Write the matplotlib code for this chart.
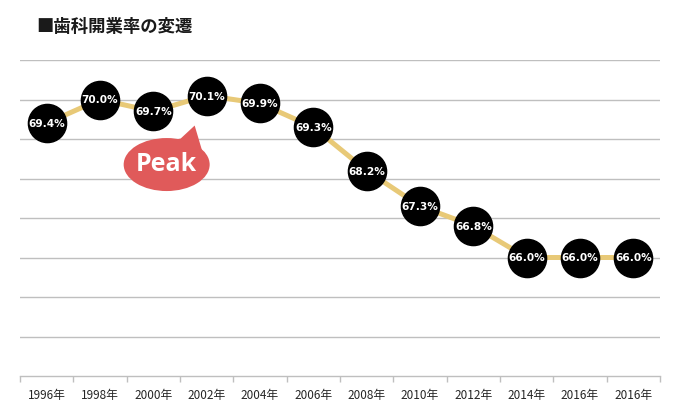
import matplotlib
matplotlib.use("Agg")
import matplotlib.pyplot as plt
from matplotlib.patches import Ellipse, Polygon
from matplotlib.transforms import IdentityTransform

years = ["1996年", "1998年", "2000年", "2002年", "2004年", "2006年",
         "2008年", "2010年", "2012年", "2014年", "2016年", "2016年"]
rates = [69.4, 70.0, 69.7, 70.1, 69.9, 69.3, 68.2, 67.3, 66.8, 66.0, 66.0, 66.0]
title = "■歯科開業率の変遷"
peak_label = "Peak"

plt.rcParams['font.family'] = ['Noto Sans CJK JP', 'DejaVu Sans']

fig = plt.figure(figsize=(6.8, 4.1), dpi=100)
ax = fig.add_axes([20/680, 1-377/410, 640/680, 316/410])

x = list(range(len(years)))
ax.set_xlim(-0.5, len(years) - 0.5)
ax.set_ylim(63, 71)
ax.set_yticks(range(64, 72))
ax.yaxis.grid(True, color='#BFBFBF', linewidth=1.0)
ax.set_axisbelow(True)
ax.tick_params(axis='y', left=False, labelleft=False)
for s in ['top', 'right', 'left']:
    ax.spines[s].set_visible(False)
ax.spines['bottom'].set_color('#BFBFBF')
ax.spines['bottom'].set_linewidth(1.0)

ax.set_xticks(x)
ax.set_xticklabels(years, fontsize=8.5, color='#262626')
ax.tick_params(axis='x', which='major', length=0, pad=9)
ax.set_xticks([i - 0.5 for i in range(len(years) + 1)], minor=True)
ax.tick_params(axis='x', which='minor', length=4, color='#BFBFBF', width=1)

ax.plot(x, rates, color='#E8C977', linewidth=3.6, zorder=2,
        solid_capstyle='round')
ax.plot(x, rates, linestyle='none', marker='o', markersize=27.5,
        markerfacecolor='black', markeredgecolor='black', zorder=3)
for xi, r in zip(x, rates):
    ax.text(xi, r, f"{r:.1f}%", ha='center', va='center', color='white',
            fontsize=7.6, fontweight='bold', family=['DejaVu Sans'], zorder=4)

# speech bubble near the peak
fig.canvas.draw()
pi = rates.index(max(rates))
px, py = ax.transData.transform((pi, rates[pi]))
cx, cy = px - 40, py - 69
bubble_col = '#E05A5A'
ell = Ellipse((cx, cy), 86, 53, facecolor=bubble_col, edgecolor='none',
              transform=IdentityTransform(), zorder=5)
tail = Polygon([(cx - 2, cy + 23), (cx + 14, cy + 26), (px - 12, py - 30),
                (cx + 36, cy + 12)],
               closed=True, facecolor=bubble_col, edgecolor='none',
               transform=IdentityTransform(), zorder=5)
fig.add_artist(ell)
fig.add_artist(tail)
fig.text(cx / fig.dpi / 6.8, (cy + 1) / fig.dpi / 4.1, peak_label,
         ha='center', va='center', color='white', fontsize=18,
         fontweight='bold', family=['Open Sans', 'DejaVu Sans'], zorder=6)

fig.text(36/680, 1 - 27/410, title, ha='left', va='center', fontsize=12.5,
         fontweight='bold', color='#1A1A1A')

fig.savefig("out.png", dpi=100)
